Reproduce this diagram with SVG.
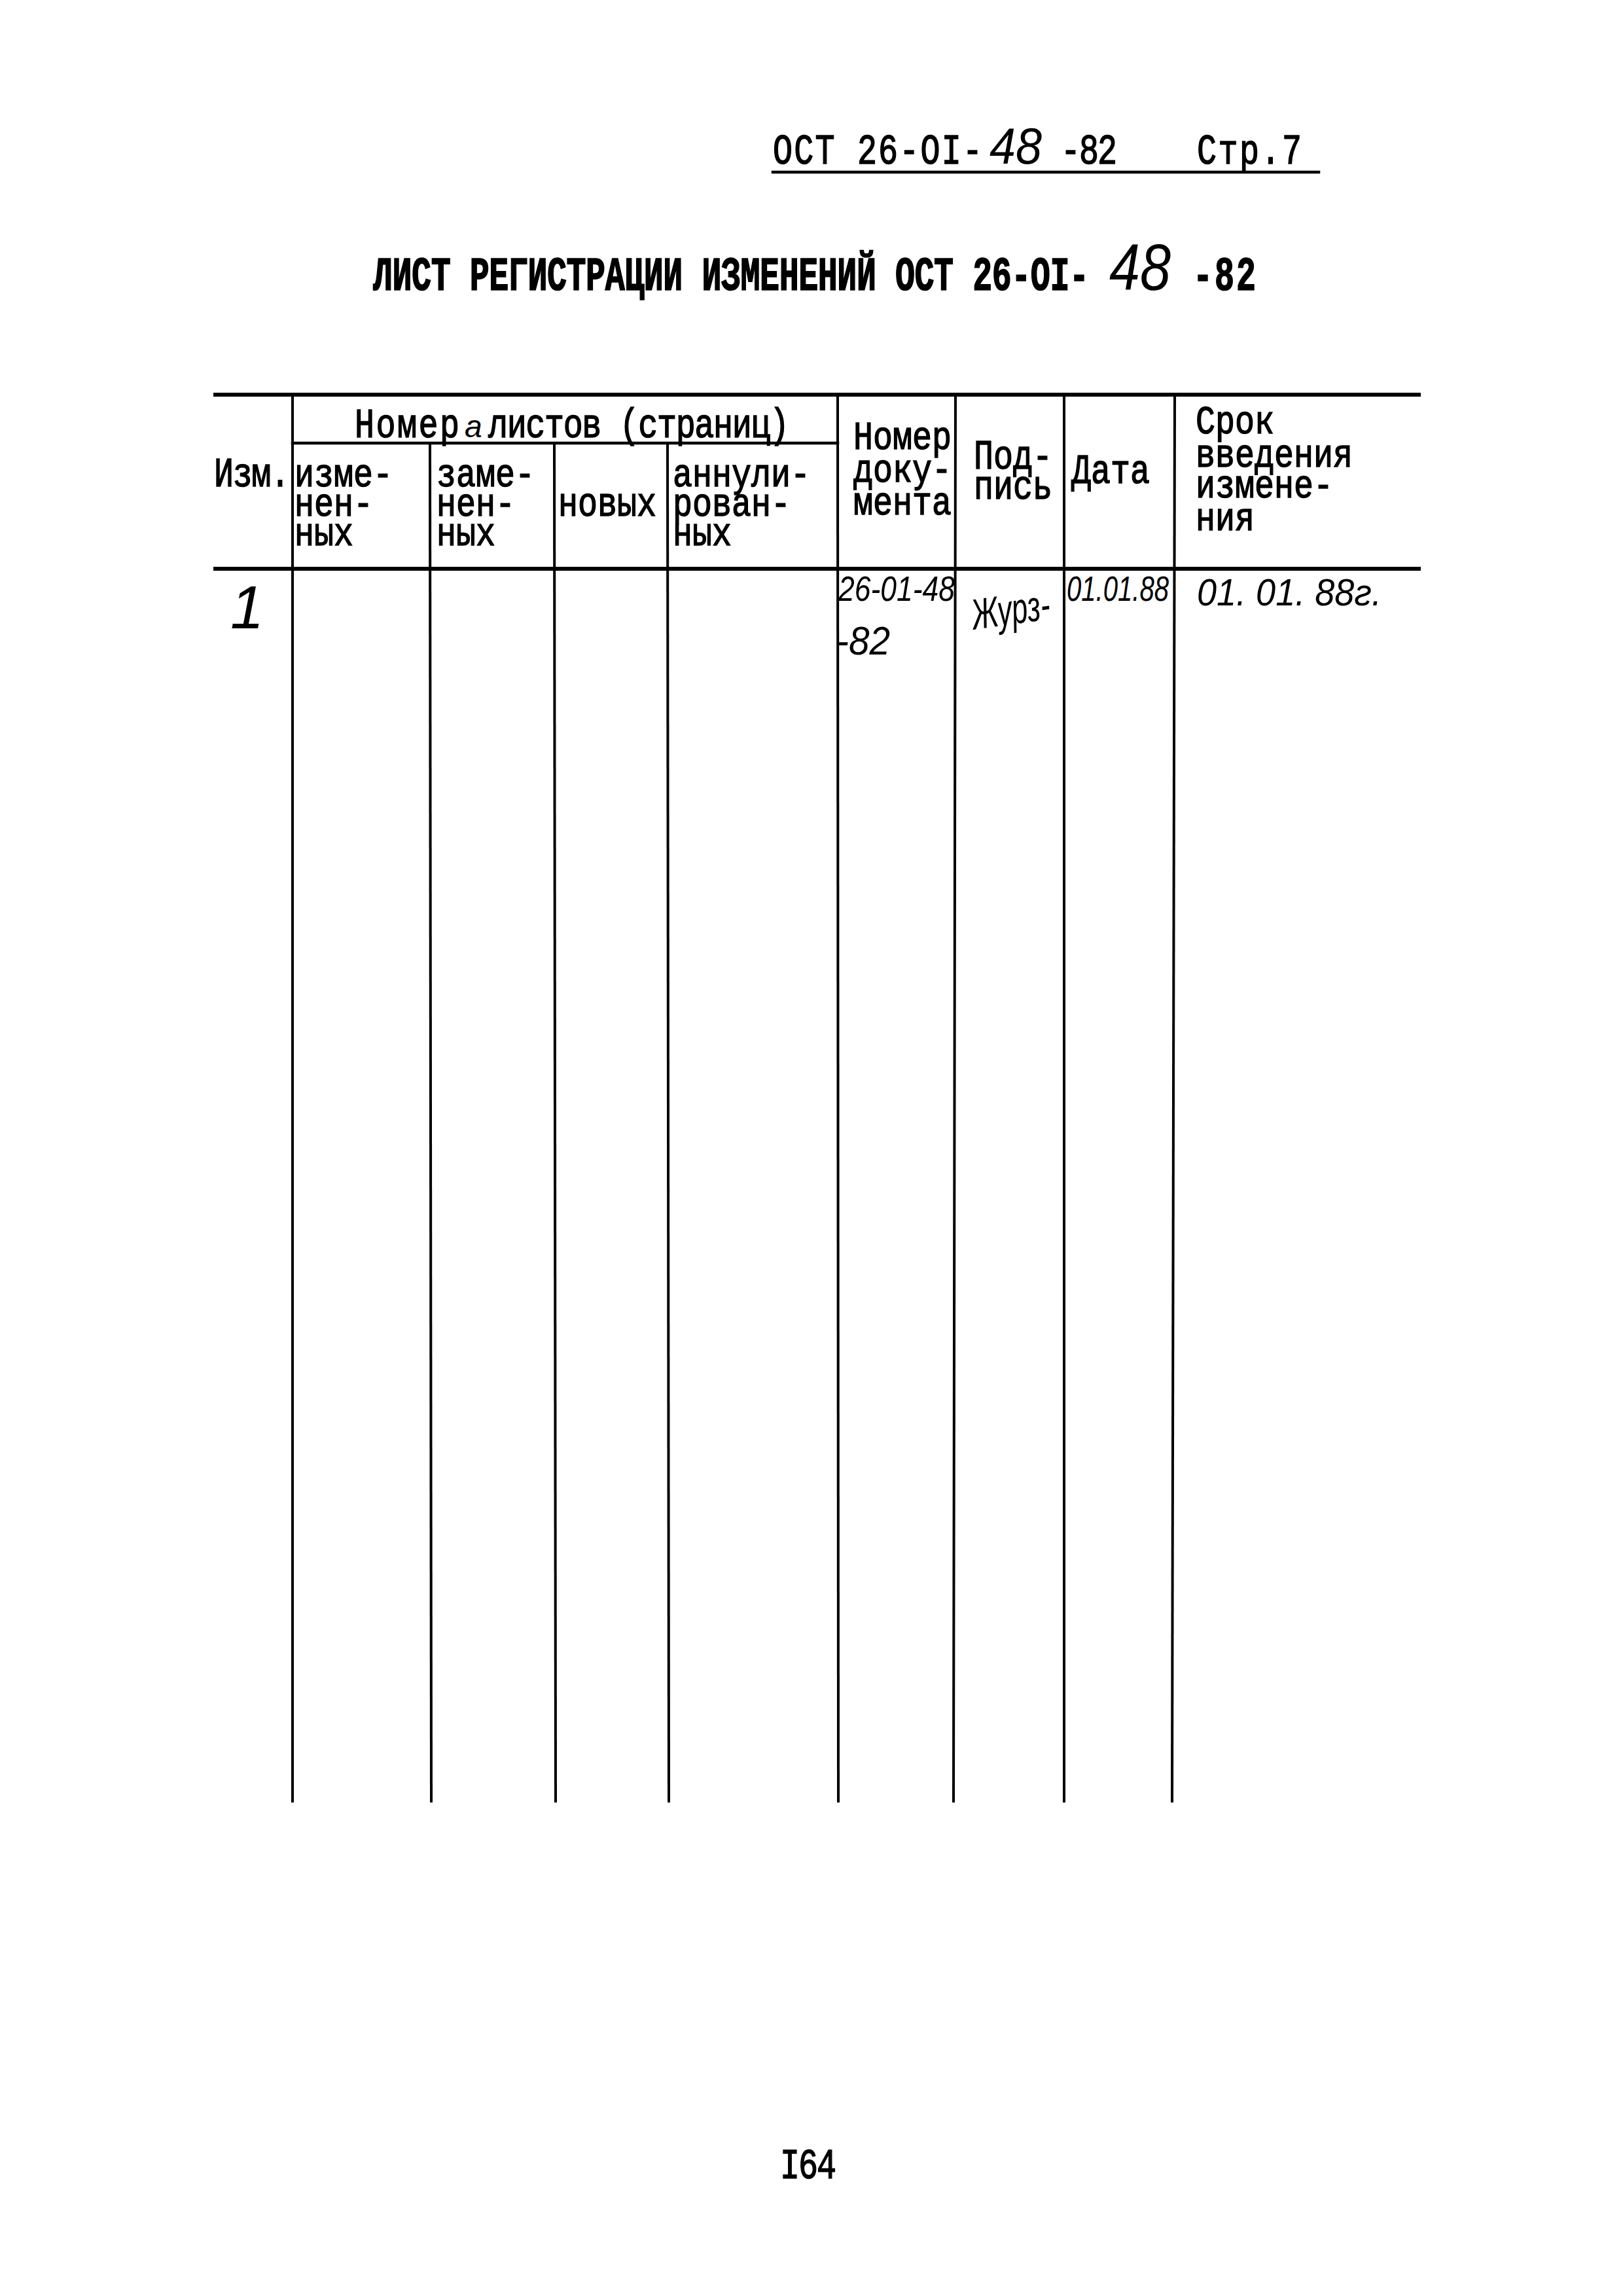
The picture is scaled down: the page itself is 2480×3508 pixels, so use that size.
<svg xmlns="http://www.w3.org/2000/svg" width="2480" height="3508" viewBox="0 0 2480 3508">
<style>
.tw{font-family:"Liberation Mono","DejaVu Sans Mono",monospace;font-size:50px;fill:#000;stroke:#000;stroke-width:1.2px}
.hw{font-family:"Liberation Sans","DejaVu Sans",sans-serif;font-style:italic;fill:#000}
.rule{stroke:#000;fill:none;stroke-linecap:square}
.thick{stroke-width:6}
.mid{stroke-width:4.5}
.thin{stroke-width:4}
</style>
<rect x="0" y="0" width="2480" height="3508" fill="#fff"/>

<g id="page-header">
  <text class="tw" font-size="53" transform="translate(1181,250) scale(1,1.3)" textLength="320">ОСТ 26-OI-</text>
  <text class="hw" font-size="78" x="1512" y="250" textLength="80" lengthAdjust="spacingAndGlyphs">48</text>
  <text class="tw" font-size="50" transform="translate(1621,250) scale(1,1.3)" textLength="86">-82</text>
  <text class="tw" font-size="52" transform="translate(1829,250) scale(1,1.3)" textLength="160">Стр.7</text>
  <line class="rule mid" x1="1181" y1="263" x2="2015" y2="263"/>
</g>

<g id="title">
  <text class="tw" font-size="48" font-weight="bold" transform="translate(570,443) scale(1,1.45)" textLength="1094">ЛИСТ РЕГИСТРАЦИИ ИЗМЕНЕНИЙ ОСТ 26-OI-</text>
  <text class="hw" font-size="100" x="1695" y="443" textLength="94" lengthAdjust="spacingAndGlyphs">48</text>
  <text class="tw" font-size="48" font-weight="bold" transform="translate(1823,443) scale(1,1.45)" textLength="96">-82</text>
</g>

<g id="table-lines">
  <line class="rule thick" x1="329" y1="603" x2="2168" y2="603"/>
  <line class="rule mid" x1="447" y1="677" x2="1280" y2="677"/>
  <line class="rule thick" x1="329" y1="869" x2="2168" y2="869"/>
  <line class="rule thin" x1="447" y1="603" x2="447" y2="2752"/>
  <line class="rule thin" x1="657" y1="677" x2="659" y2="2752"/>
  <line class="rule thin" x1="847" y1="677" x2="849" y2="2752"/>
  <line class="rule thin" x1="1020" y1="677" x2="1022" y2="2752"/>
  <line class="rule thin" x1="1280" y1="603" x2="1281" y2="2752"/>
  <line class="rule thin" x1="1460" y1="603" x2="1457" y2="2752"/>
  <line class="rule thin" x1="1626" y1="603" x2="1626" y2="2752"/>
  <line class="rule thin" x1="1795" y1="603" x2="1791" y2="2752"/>
</g>

<g id="header-cells">
  <g id="h-sheets">
    <text class="tw" transform="translate(542,668) scale(1,1.25)" textLength="160">Номер</text>
    <text class="hw" font-size="48" x="710" y="668">а</text>
    <text class="tw" transform="translate(746,668) scale(1,1.25)" textLength="460">листов (страниц)</text>
  </g>
  <g id="h-izm"><text class="tw" transform="translate(327,743) scale(1,1.25)" textLength="116">Изм.</text></g>
  <g id="h-changed">
    <text class="tw" transform="translate(450,743) scale(1,1.22)">изме-</text>
    <text class="tw" transform="translate(450,788) scale(1,1.22)">нен-</text>
    <text class="tw" transform="translate(450,833) scale(1,1.22)">ных</text>
  </g>
  <g id="h-replaced">
    <text class="tw" transform="translate(667,743) scale(1,1.22)">заме-</text>
    <text class="tw" transform="translate(667,788) scale(1,1.22)">нен-</text>
    <text class="tw" transform="translate(667,833) scale(1,1.22)">ных</text>
  </g>
  <g id="h-new"><text class="tw" transform="translate(853,788) scale(1,1.25)">новых</text></g>
  <g id="h-annulled">
    <text class="tw" transform="translate(1028,743) scale(1,1.22)">аннули-</text>
    <text class="tw" transform="translate(1028,788) scale(1,1.22)">рован-</text>
    <text class="tw" transform="translate(1028,833) scale(1,1.22)">ных</text>
  </g>
  <g id="h-docnum">
    <text class="tw" transform="translate(1304,686) scale(1,1.22)">Номер</text>
    <text class="tw" transform="translate(1304,736) scale(1,1.22)">доку-</text>
    <text class="tw" transform="translate(1304,786) scale(1,1.22)">мента</text>
  </g>
  <g id="h-sign">
    <text class="tw" transform="translate(1488,716) scale(1,1.25)">Под-</text>
    <text class="tw" transform="translate(1488,762) scale(1,1.25)">пись</text>
  </g>
  <g id="h-date"><text class="tw" transform="translate(1637,738) scale(1,1.25)">Дата</text></g>
  <g id="h-term">
    <text class="tw" transform="translate(1827,662) scale(1,1.22)">Срок</text>
    <text class="tw" transform="translate(1827,713) scale(1,1.22)">введения</text>
    <text class="tw" transform="translate(1827,760) scale(1,1.22)">измене-</text>
    <text class="tw" transform="translate(1827,810) scale(1,1.22)">ния</text>
  </g>
</g>

<g id="row-1">
  <text class="hw" font-size="92" x="352" y="960">1</text>
  <text class="hw" font-size="54" x="1281" y="918" textLength="178" lengthAdjust="spacingAndGlyphs">26-01-48</text>
  <text class="hw" font-size="62" x="1278" y="1000" textLength="82" lengthAdjust="spacingAndGlyphs">-82</text>
  <text class="hw" font-size="66" transform="translate(1488,962) rotate(-8)" textLength="120" lengthAdjust="spacingAndGlyphs">Журз-</text>
  <text class="hw" font-size="53" x="1630" y="918" textLength="156" lengthAdjust="spacingAndGlyphs">01.01.88</text>
  <text class="hw" font-size="58" x="1829" y="925" textLength="282" lengthAdjust="spacingAndGlyphs">01. 01. 88г.</text>
</g>

<g id="page-number">
  <text class="tw" font-size="47" transform="translate(1192,3328) scale(1,1.3)" textLength="86">I64</text>
</g>
</svg>
